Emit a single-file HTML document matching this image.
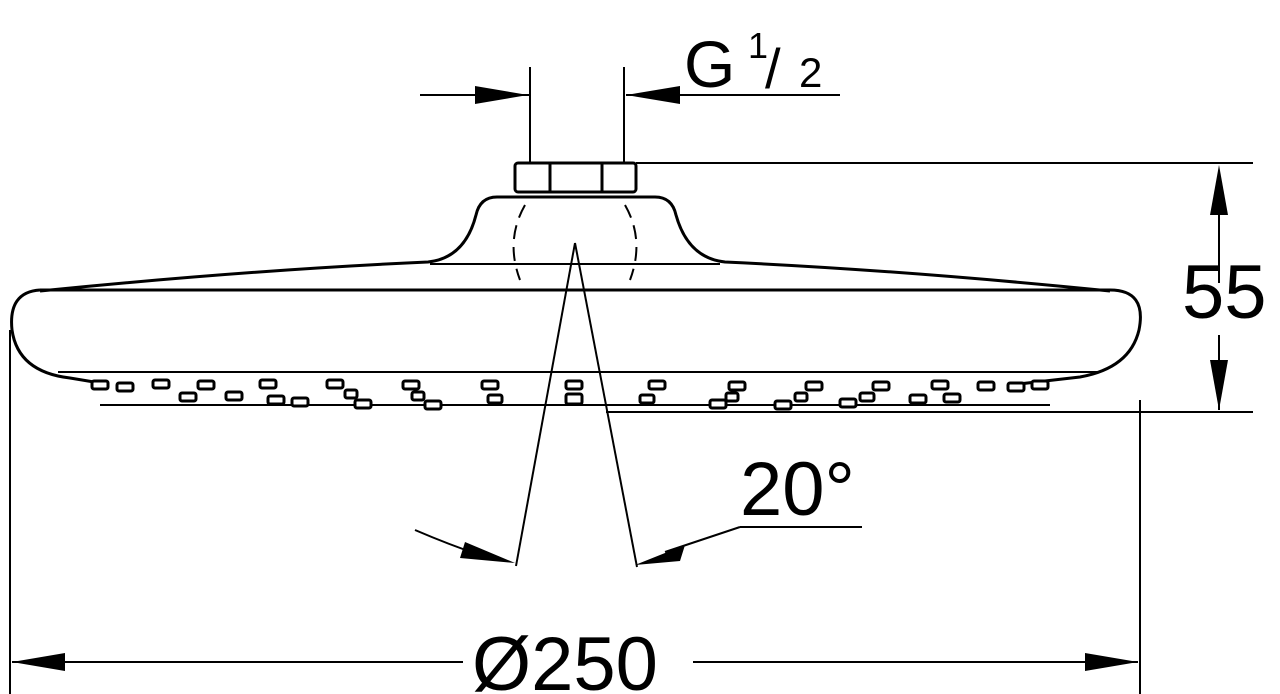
<!DOCTYPE html>
<html><head><meta charset="utf-8"><style>html,body{margin:0;padding:0;background:#fff}svg{display:block}</style></head><body>
<svg width="1280" height="694" viewBox="0 0 1280 694" xmlns="http://www.w3.org/2000/svg" font-family="Liberation Sans, sans-serif">
<g fill="none" stroke="#000" stroke-width="2">
<line x1="530" y1="67" x2="530" y2="163"/>
<line x1="624" y1="67" x2="624" y2="163"/>
<line x1="420" y1="95" x2="530" y2="95"/>
<line x1="626" y1="95" x2="840" y2="95"/>
<rect x="515" y="163" width="121" height="29" rx="3" stroke-width="3"/>
<line x1="550" y1="163" x2="550" y2="192" stroke-width="3"/>
<line x1="602" y1="163" x2="602" y2="192" stroke-width="3"/>
<line x1="636" y1="163" x2="1253" y2="163"/>
<path d="M497,197 L655,197 Q672,197 676,215 Q688,258 725,262 Q900,270 1110,291 M497,197 Q480,197 476,215 Q465,258 428,262 Q250,270 40,291" stroke-width="3"/>
<line x1="430" y1="264" x2="720" y2="264"/>
<path d="M40,290 L1110,290 Q1147,290 1139,330 Q1130,368 1080,377 L1010,385 M40,290 Q8,292 12,330 Q18,372 70,378 L100,383" stroke-width="3"/>
<line x1="58" y1="372" x2="1100" y2="372"/>
<line x1="100" y1="405" x2="1050" y2="405"/>
<line x1="606" y1="412" x2="1253" y2="412"/>
<path d="M525,205 Q505,240 520,280" stroke-dasharray="14,8"/>
<path d="M625,205 Q645,240 630,280" stroke-dasharray="14,8"/>
<line x1="575" y1="243" x2="516" y2="566"/>
<line x1="575" y1="243" x2="637" y2="567"/>
<path d="M415,530 Q450,545 480,555"/>
<line x1="665" y1="552" x2="740" y2="527"/>
<line x1="740" y1="527" x2="862" y2="527"/>
<line x1="1219" y1="175" x2="1219" y2="283"/>
<line x1="1219" y1="335" x2="1219" y2="410"/>
<line x1="10" y1="330" x2="10" y2="694"/>
<line x1="1140" y1="400" x2="1140" y2="694"/>
<line x1="12" y1="662" x2="463" y2="662"/>
<line x1="693" y1="662" x2="1138" y2="662"/>
</g>
<g fill="#000">
<polygon points="528,95 475,86 475,104"/>
<polygon points="626,95 680,86 680,104"/>
<polygon points="1219,165 1210,215 1228,215"/>
<polygon points="1219,410 1210,360 1228,360"/>
<polygon points="12,662 65,653 65,671"/>
<polygon points="1138,662 1085,653 1085,671"/>
<polygon points="515,563 465,542 460,558"/>
<polygon points="635,565 685,545 680,561"/>
</g>
<g fill="#fff" stroke="#000" stroke-width="3">
<rect x="92" y="381" width="16" height="8" rx="2"/><rect x="117" y="383" width="16" height="8" rx="2"/>
<rect x="153" y="380" width="16" height="8" rx="2"/><rect x="180" y="393" width="16" height="8" rx="2"/><rect x="198" y="381" width="16" height="8" rx="2"/><rect x="226" y="392" width="16" height="8" rx="2"/>
<rect x="260" y="380" width="16" height="8" rx="2"/><rect x="268" y="396" width="16" height="8" rx="2"/><rect x="292" y="398" width="16" height="8" rx="2"/>
<rect x="327" y="380" width="16" height="8" rx="2"/><rect x="345" y="390" width="12" height="8" rx="2"/><rect x="355" y="400" width="16" height="8" rx="2"/>
<rect x="403" y="381" width="16" height="8" rx="2"/><rect x="412" y="392" width="12" height="8" rx="2"/><rect x="425" y="401" width="16" height="8" rx="2"/>
<rect x="482" y="381" width="16" height="8" rx="2"/><rect x="488" y="395" width="14" height="8" rx="2"/>
<rect x="566" y="381" width="16" height="8" rx="2"/><rect x="566" y="394" width="16" height="10" rx="2"/>
<rect x="649" y="381" width="16" height="8" rx="2"/><rect x="640" y="395" width="14" height="8" rx="2"/>
<rect x="729" y="382" width="16" height="8" rx="2"/><rect x="710" y="400" width="16" height="8" rx="2"/><rect x="726" y="393" width="12" height="8" rx="2"/>
<rect x="806" y="382" width="16" height="8" rx="2"/><rect x="775" y="401" width="16" height="8" rx="2"/><rect x="795" y="393" width="12" height="8" rx="2"/>
<rect x="873" y="382" width="16" height="8" rx="2"/><rect x="840" y="399" width="16" height="8" rx="2"/><rect x="860" y="393" width="14" height="8" rx="2"/>
<rect x="910" y="395" width="16" height="8" rx="2"/><rect x="932" y="381" width="16" height="8" rx="2"/><rect x="944" y="394" width="16" height="8" rx="2"/>
<rect x="978" y="382" width="16" height="8" rx="2"/><rect x="1008" y="383" width="16" height="8" rx="2"/><rect x="1032" y="381" width="16" height="8" rx="2"/>
</g>
<g fill="#000" font-size="76">
<text x="684" y="87" font-size="66">G</text>
<text x="748" y="58" font-size="36">1</text>
<text x="765" y="88" font-size="56">/</text>
<text x="799" y="87" font-size="42">2</text>
<text x="1182" y="318">55</text>
<text x="740" y="515">20°</text>
<text x="472" y="690">Ø250</text>
</g>
</svg>
</body></html>
